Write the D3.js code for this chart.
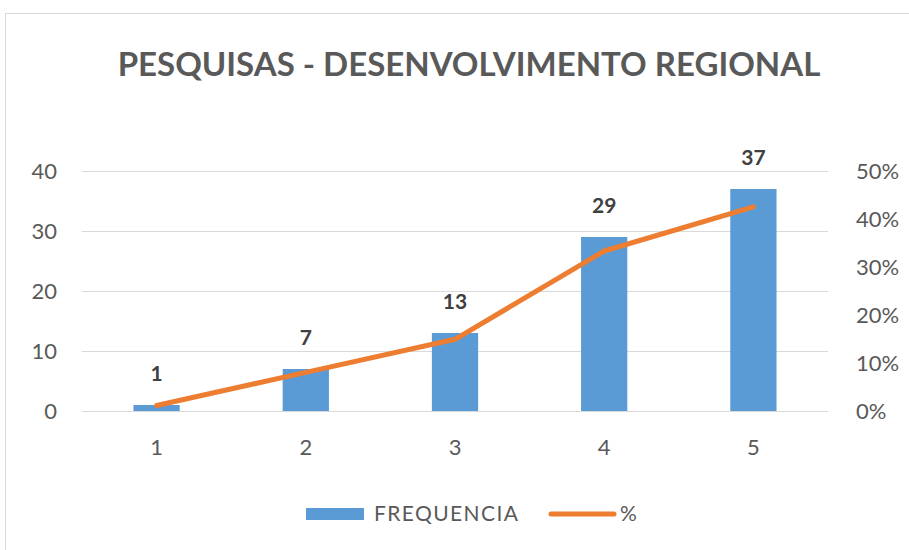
<!DOCTYPE html>
<html>
<head>
<meta charset="utf-8">
<script src="https://cdn.jsdelivr.net/npm/d3@7"></script>
<style>
    body { margin: 0; background: #fff; }
    text { font-family: Lato, "Open Sans", sans-serif; }
</style>
</head>
<body>
<div id="chart"></div>
<script>
const categories = ["1", "2", "3", "4", "5"]
const frequencia = [1, 7, 13, 29, 37]
const percent = [0.0115, 0.0805, 0.1494, 0.3333, 0.4253]
const leftTicks = [0, 10, 20, 30, 40]
const rightTicks = [0, 0.1, 0.2, 0.3, 0.4, 0.5]

function drawChart() {
    let dimensions = {
        width: 909,
        height: 550,
        margin: {
            top: 171,
            right: 81,
            bottom: 139,
            left: 82,
        },
    }
    dimensions.boundedWidth = dimensions.width - dimensions.margin.left - dimensions.margin.right
    dimensions.boundedHeight = dimensions.height - dimensions.margin.top - dimensions.margin.bottom

    const svg = d3.select('#chart')
        .append('svg')
        .attr("width", dimensions.width)
        .attr("height", dimensions.height)

    // chart frame
    svg.append("rect")
        .attr("x", 5.5)
        .attr("y", 13.5)
        .attr("width", 940)
        .attr("height", 600)
        .attr("fill", "#fff")
        .attr("stroke", "#d9d9d9")

    svg.append("text")
        .attr("x", 469)
        .attr("y", 76)
        .attr("text-anchor", "middle")
        .attr("fill", "#595959")
        .style("font-size", "33px")
        .style("font-weight", "bold")
        .text("PESQUISAS - DESENVOLVIMENTO REGIONAL")

    const bounds = svg.append("g")
        .attr("transform", `translate(${dimensions.margin.left}, ${dimensions.margin.top})`)

    // scales
    const xScale = d3.scaleBand()
        .domain(categories)
        .range([0, dimensions.boundedWidth])

    const yScale = d3.scaleLinear()
        .domain([0, 40])
        .range([dimensions.boundedHeight, 0])

    const y2Scale = d3.scaleLinear()
        .domain([0, 0.5])
        .range([dimensions.boundedHeight, 0])

    // gridlines
    bounds.append("g")
        .selectAll("line")
        .data(leftTicks)
        .join("line")
        .attr("x1", 0)
        .attr("x2", dimensions.boundedWidth)
        .attr("y1", d => Math.round(yScale(d)) + 0.5)
        .attr("y2", d => Math.round(yScale(d)) + 0.5)
        .attr("stroke", "#d9d9d9")
        .attr("stroke-width", 1)

    // bars
    const barWidth = xScale.bandwidth() * 0.31
    const data = categories.map((c, i) => ({ cat: c, freq: frequencia[i], pct: percent[i] }))

    bounds.append("g")
        .selectAll("rect")
        .data(data)
        .join("rect")
        .attr("x", d => xScale(d.cat) + xScale.bandwidth() / 2 - barWidth / 2)
        .attr("y", d => yScale(d.freq))
        .attr("width", barWidth)
        .attr("height", d => dimensions.boundedHeight - yScale(d.freq))
        .attr("fill", "#5b9bd5")

    // bar labels
    bounds.append("g")
        .selectAll("text")
        .data(data)
        .join("text")
        .attr("x", d => xScale(d.cat) + xScale.bandwidth() / 2)
        .attr("y", d => yScale(d.freq) - 24)
        .attr("text-anchor", "middle")
        .attr("fill", "#404040")
        .style("font-size", "21px")
        .style("font-weight", "bold")
        .text(d => d.freq)

    // % line
    const lineGenerator = d3.line()
        .x(d => xScale(d.cat) + xScale.bandwidth() / 2)
        .y(d => y2Scale(d.pct))

    bounds.append("path")
        .datum(data)
        .attr("d", lineGenerator)
        .attr("fill", "none")
        .attr("stroke", "#ed7d31")
        .attr("stroke-width", 5)
        .attr("stroke-linecap", "round")
        .attr("stroke-linejoin", "round")

    // axes
    const yAxisGenerator = d3.axisLeft(yScale)
        .tickValues(leftTicks)
        .tickSize(0)
        .tickPadding(25)

    const yAxis = bounds.append("g")
        .call(yAxisGenerator)
    yAxis.select(".domain").remove()
    yAxis.selectAll("text")
        .attr("fill", "#595959")
        .style("font-size", "22px")
        .style("font-family", "Lato")

    const y2AxisGenerator = d3.axisRight(y2Scale)
        .tickValues(rightTicks)
        .tickFormat(d3.format(".0%"))
        .tickSize(0)
        .tickPadding(28)

    const y2Axis = bounds.append("g")
        .attr("transform", `translate(${dimensions.boundedWidth}, 0)`)
        .call(y2AxisGenerator)
    y2Axis.select(".domain").remove()
    y2Axis.selectAll("text")
        .attr("fill", "#595959")
        .style("font-size", "22px")
        .style("font-family", "Lato")

    const xAxisGenerator = d3.axisBottom(xScale)
        .tickSize(0)
        .tickPadding(28)

    const xAxis = bounds.append("g")
        .attr("transform", `translate(0, ${dimensions.boundedHeight})`)
        .call(xAxisGenerator)
    xAxis.select(".domain").remove()
    xAxis.selectAll("text")
        .attr("fill", "#595959")
        .style("font-size", "22px")
        .style("font-family", "Lato")

    // legend
    const legend = svg.append("g")
        .attr("transform", "translate(0, 514)")

    legend.append("rect")
        .attr("x", 306)
        .attr("y", -6)
        .attr("width", 58)
        .attr("height", 12)
        .attr("fill", "#5b9bd5")

    legend.append("text")
        .attr("x", 374)
        .attr("y", 0)
        .attr("dy", "0.35em")
        .attr("fill", "#595959")
        .style("font-size", "21px")
        .style("letter-spacing", "1.4px")
        .text("FREQUENCIA")

    legend.append("line")
        .attr("x1", 551)
        .attr("x2", 614)
        .attr("y1", 0)
        .attr("y2", 0)
        .attr("stroke", "#ed7d31")
        .attr("stroke-width", 5)
        .attr("stroke-linecap", "round")

    legend.append("text")
        .attr("x", 620)
        .attr("y", 0)
        .attr("dy", "0.35em")
        .attr("fill", "#595959")
        .style("font-size", "21px")
        .text("%")
}
drawChart()
</script>
</body>
</html>
